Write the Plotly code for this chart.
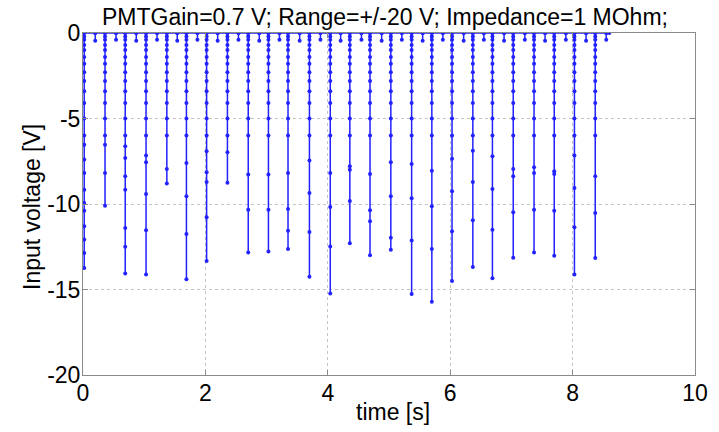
import plotly.graph_objects as go

# ---- data ----
spike_times = [0.02, 0.36, 0.69, 1.03, 1.37, 1.69, 2.02, 2.36, 2.70, 3.03,
               3.35, 3.70, 4.04, 4.36, 4.69, 5.03, 5.37, 5.70, 6.03, 6.37,
               6.69, 7.03, 7.37, 7.70, 8.03, 8.37]

# sampled dots along each pulse, deepest first (V)
spike_dots = [
    [-13.74, -12.86, -12.08, -11.3, -10.4, -9.94, -9.16, -8.18, -7.4, -6.53],
    [-10.1, -8.18, -6.53],
    [-14.07, -12.5, -11.4, -9.16, -8.38, -7.31, -6.63],
    [-14.13, -11.54, -9.41, -7.56, -7.17],
    [-8.8, -7.95],
    [-14.4, -11.75, -9.55, -7.6],
    [-13.33, -10.78, -8.71, -8.15, -6.92],
    [-8.75, -6.98],
    [-12.84, -10.33, -8.28],
    [-12.78, -10.33, -8.28],
    [-12.63, -11.56, -10.29, -8.19],
    [-14.26, -11.64, -9.35, -7.46],
    [-15.24, -12.49, -10.17, -8.19],
    [-12.3, -9.82, -7.99, -7.79],
    [-13.0, -11.01, -10.37, -8.24],
    [-12.67, -11.98, -9.55, -7.56],
    [-15.26, -12.14, -9.67, -7.66],
    [-15.71, -12.63, -10.13, -8.05],
    [-14.5, -11.6, -9.26, -7.35],
    [-13.68, -10.95, -8.71, -6.88],
    [-14.34, -11.5, -9.12, -7.21],
    [-13.14, -10.48, -8.38, -7.95],
    [-12.84, -10.33, -8.18, -7.85],
    [-13.02, -10.39, -8.24, -8.09],
    [-14.13, -11.36, -9.06, -7.17],
    [-13.16, -10.52, -8.38],
]

# recovery dots near the baseline, seen on every pulse (V)
tail_dots = [-6.0, -5.0, -4.1, -3.4, -2.8, -2.3, -1.8, -1.4, -1.0, -0.7, -0.4, -0.2]

# small after-pulses between the main pulses
blip_times = [0.20, 0.54, 0.87, 1.21, 1.54, 1.87, 2.20, 2.54, 2.88, 3.21,
              3.54, 3.88, 4.21, 4.55, 4.88, 5.21, 5.55, 5.88, 6.22, 6.55,
              6.88, 7.22, 7.55, 7.89, 8.22, 8.55]
blip_depths = [-0.45, -0.4, -0.45, -0.4, -0.45, -0.4, -0.45, -0.4, -0.45, -0.4,
               -0.45, -0.4, -0.45, -0.4, -0.45, -0.4, -0.45, -0.4, -0.45, -0.4,
               -0.45, -0.4, -0.45, -0.4, -0.45, -0.4]

start_time = 0.0
end_time = 8.6

x_ticks = [0, 2, 4, 6, 8, 10]
y_ticks = [0, -5, -10, -15, -20]

title_text = "PMTGain=0.7 V; Range=+/-20 V; Impedance=1 MOhm;"
x_label = "time [s]"
y_label = "Input voltage [V]"

# ---- build the trace ----
xs, ys = [start_time], [0.0]
for t, dots, bt, bd in zip(spike_times, spike_dots, blip_times, blip_depths):
    seq = [0.0] + dots + [v for v in tail_dots if v > dots[-1]] + [0.0]
    xs += [t] * len(seq)
    ys += seq
    xs += [bt, bt, bt]
    ys += [0.0, bd, 0.0]
xs.append(end_time)
ys.append(0.0)

fig = go.Figure(go.Scatter(
    x=xs, y=ys, mode="lines+markers",
    line=dict(color="#2222ff", width=1.5),
    marker=dict(color="#2222ff", size=4),
    showlegend=False,
))

font_family = "Liberation Sans, Arial, sans-serif"
txt_font = dict(family=font_family, size=23, color="black")
axis_common = dict(
    showline=True, mirror="ticks", linecolor="#8a8a8a", linewidth=1,
    ticks="inside", ticklen=5, tickcolor="#8a8a8a",
    showgrid=True, gridcolor="#c4c4c4", griddash="dot", gridwidth=1,
    zeroline=False, automargin=False,
    tickfont=txt_font,
)

W, H = 719, 432
L, R, T, B = 83, 24, 33, 57

fig.update_layout(
    width=W, height=H,
    margin=dict(l=L, r=R, t=T, b=B),
    paper_bgcolor="white", plot_bgcolor="white",
    title=dict(text=title_text, x=385 / W, xanchor="center",
               y=1 - 16.5 / H, yanchor="middle", font=txt_font),
    xaxis=dict(range=[0, 10], tickvals=x_ticks, ticktext=[str(v) for v in x_ticks],
               ticklabelstandoff=-3, **axis_common),
    yaxis=dict(range=[-20, 0], tickvals=y_ticks, ticktext=[str(v) for v in y_ticks],
               ticklabelstandoff=-3, **axis_common),
    annotations=[
        dict(text=x_label, xref="paper", yref="paper",
             x=(393 - L) / (W - L - R), y=-(412 - (H - B)) / (H - T - B),
             xanchor="center", yanchor="middle", showarrow=False, font=txt_font),
        dict(text=y_label, xref="paper", yref="paper", textangle=-90,
             x=-(L - 32) / (W - L - R), y=1 - (207 - T) / (H - T - B),
             xanchor="center", yanchor="middle", showarrow=False, font=txt_font),
    ],
)

fig.write_html(
    "out.html",
    config={"displayModeBar": False},
    post_script="document.body.style.margin='0';document.body.style.overflow='hidden';",
)
